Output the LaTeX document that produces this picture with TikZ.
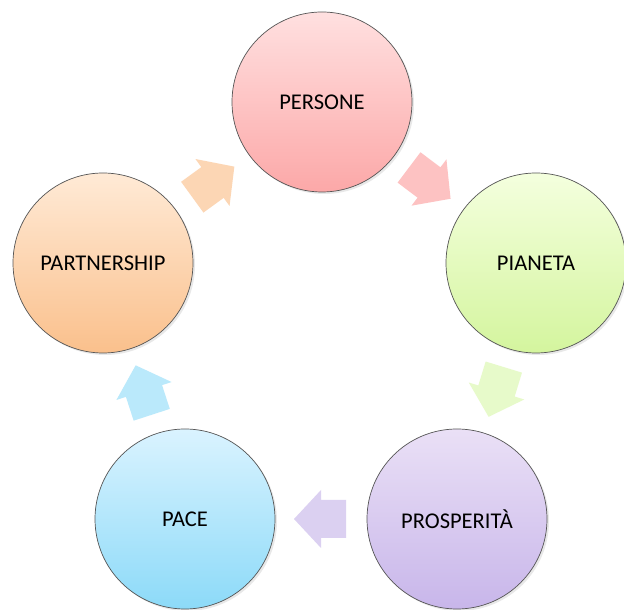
\documentclass[tikz,border=0pt]{standalone}
\usepackage{fontspec}
\setmainfont{Carlito}
\usepackage{tikz}
\usetikzlibrary{positioning, calc, shadows}
\definecolor{PersoneTop}{RGB}{255,224,224}
\definecolor{PersoneBottom}{RGB}{252,168,168}
\definecolor{PianetaTop}{RGB}{244,255,222}
\definecolor{PianetaBottom}{RGB}{212,245,158}
\definecolor{ProsperitaTop}{RGB}{234,224,246}
\definecolor{ProsperitaBottom}{RGB}{200,182,234}
\definecolor{PaceTop}{RGB}{218,243,255}
\definecolor{PaceBottom}{RGB}{140,218,248}
\definecolor{PartnerTop}{RGB}{255,234,214}
\definecolor{PartnerBottom}{RGB}{250,192,140}
\definecolor{BorderColor}{RGB}{85,85,85}
\tikzset{
  goal/.style={circle, minimum size=180pt, inner sep=0pt, draw=BorderColor, line width=0.7pt,
    font=\fontsize{22.5}{26}\selectfont, text=black,
    drop shadow={shadow xshift=2pt, shadow yshift=-2pt, opacity=0.18}},
  cyclearrow/.pic={
    \path[pic actions] (-25,-19) -- (0,-19) -- (0,-29) -- (27,0) -- (0,29) -- (0,19) -- (-25,19) -- cycle;
  },
  arrowfill/.style={fill=#1, drop shadow={shadow xshift=2pt, shadow yshift=-2pt, opacity=0.15}}
}

\begin{document}
\begin{tikzpicture}[x=1pt, y=1pt]
  \clip (0,0) rectangle (624,610);
  \fill[white] (0,0) rectangle (624,610);

  % Circles
  \node[goal, top color=PersoneTop, bottom color=PersoneBottom] (persone) at (322,508) {PERSONE};
  \node[goal, top color=PianetaTop, bottom color=PianetaBottom] (pianeta) at (536,347) {PIANETA};
  \node[goal, top color=ProsperitaTop, bottom color=ProsperitaBottom] (prosperita) at (457,91) {PROSPERITÀ};
  \node[goal, top color=PaceTop, bottom color=PaceBottom] (pace) at (185,91) {PACE};
  \node[goal, top color=PartnerTop, bottom color=PartnerBottom] (partnership) at (103,347) {PARTNERSHIP};

  % Arrows
  \pic[arrowfill=PartnerBottom!65, rotate=36] at ($(partnership)!0.5!(persone)$) {cyclearrow};
  \pic[arrowfill=PersoneBottom!70, rotate=-37] at ($(persone)!0.5!(pianeta)$) {cyclearrow};
  \pic[arrowfill=PianetaBottom!55, rotate=-107] at ($(pianeta)!0.5!(prosperita)$) {cyclearrow};
  \pic[arrowfill=ProsperitaBottom!65, rotate=180] at ($(prosperita)!0.5!(pace)$) {cyclearrow};
  \pic[arrowfill=PaceBottom!60, rotate=108] at ($(pace)!0.5!(partnership)$) {cyclearrow};
\end{tikzpicture}
\end{document}
